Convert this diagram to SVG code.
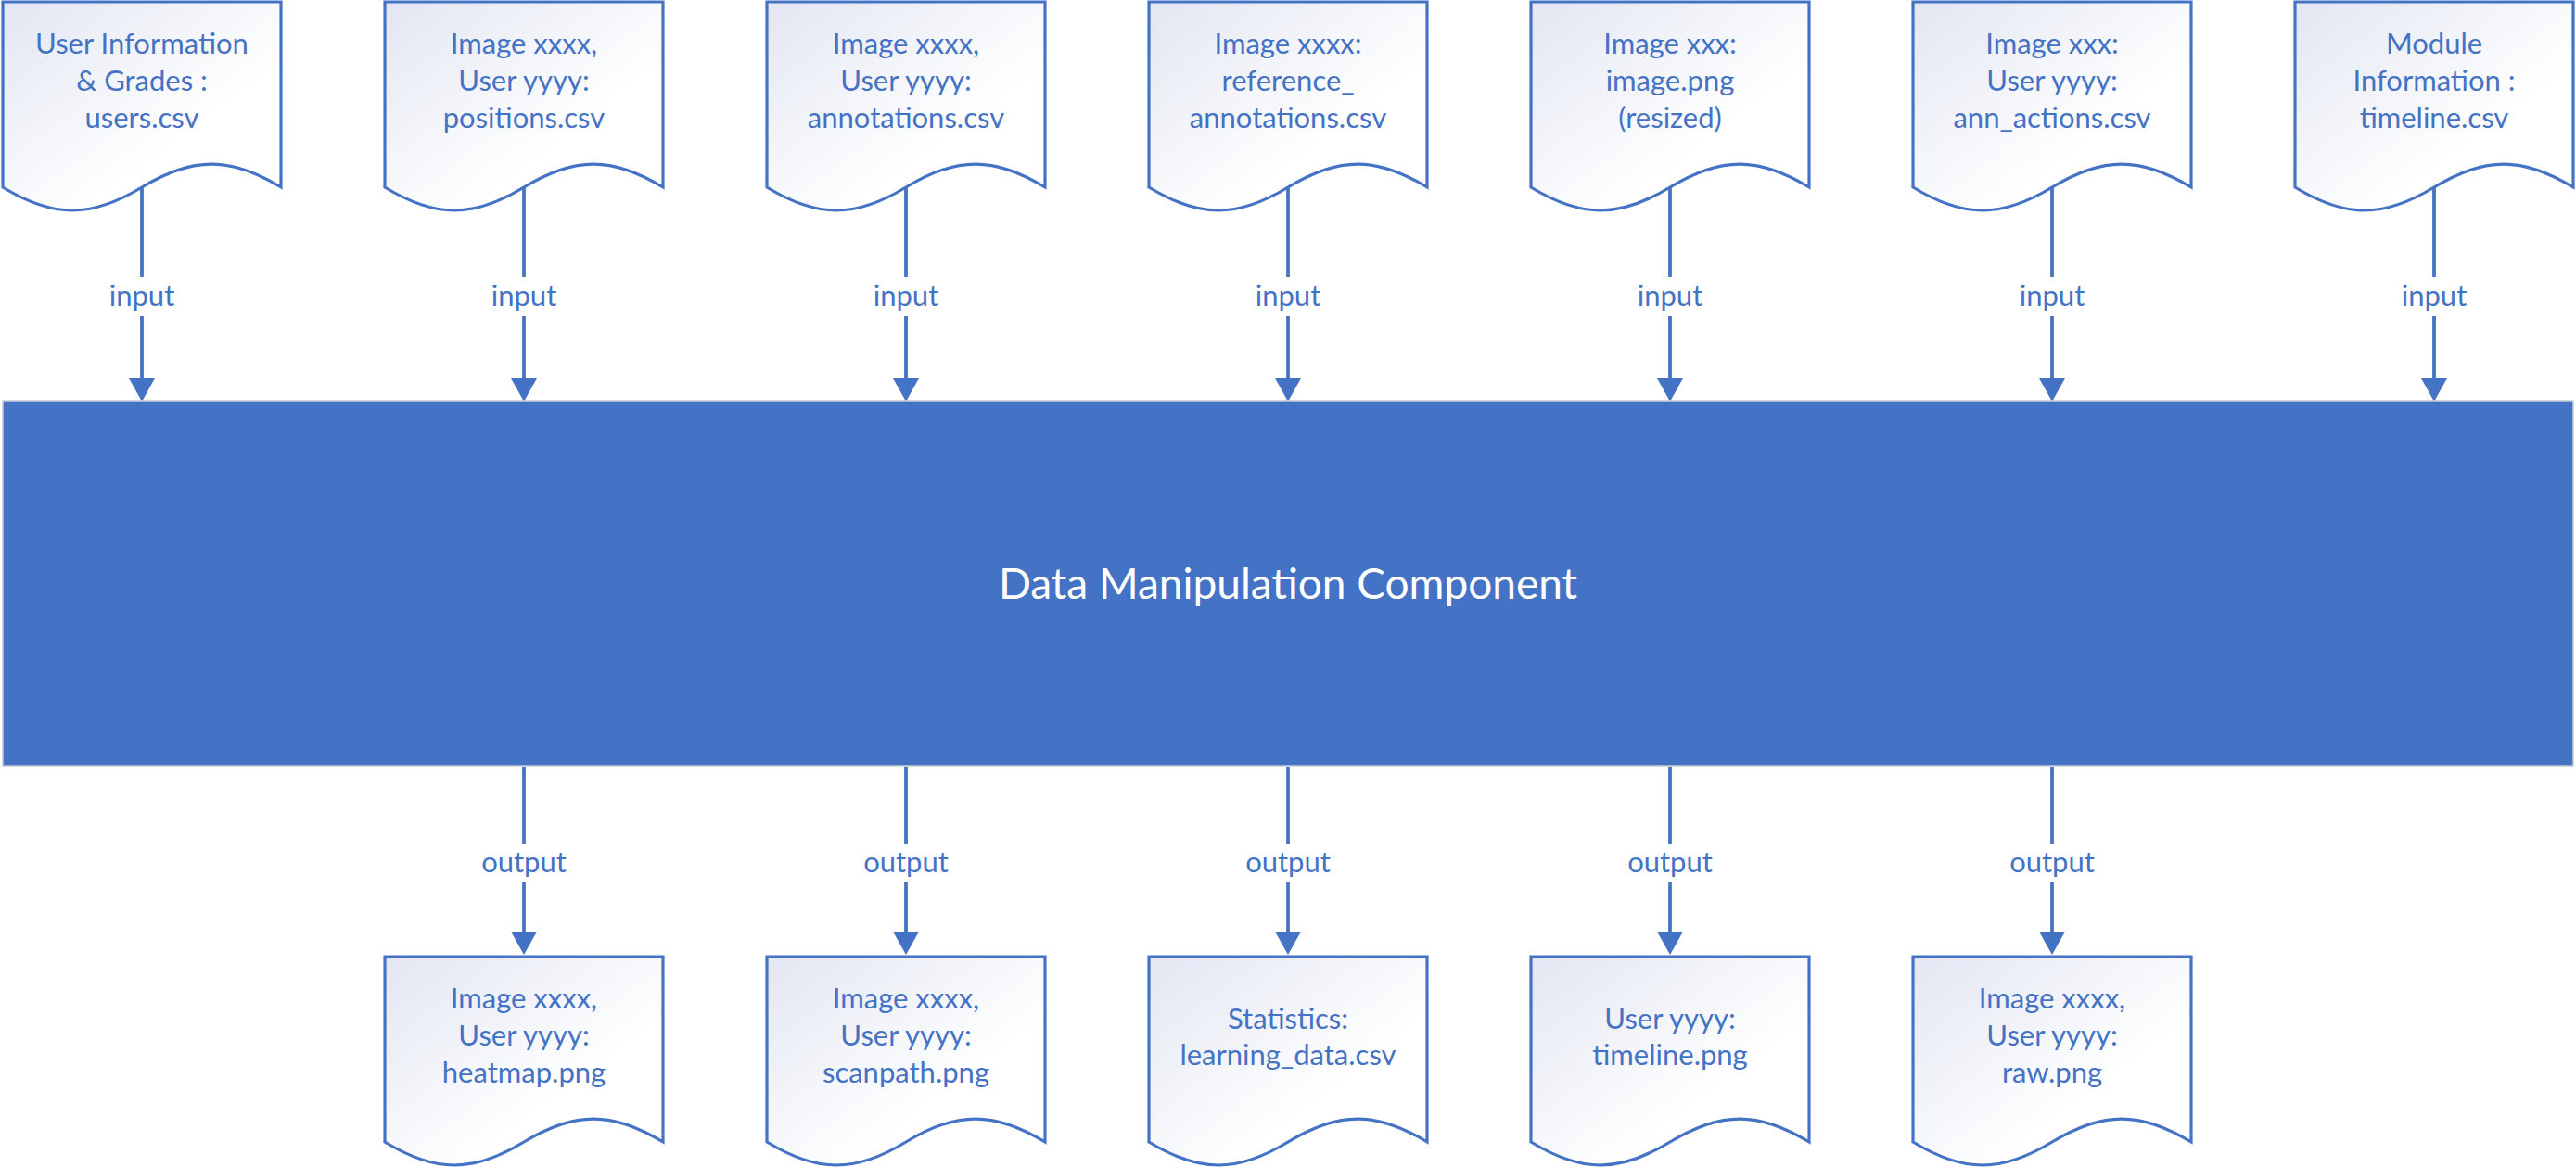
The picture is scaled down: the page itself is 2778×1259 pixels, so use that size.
<svg xmlns="http://www.w3.org/2000/svg" width="2778" height="1259" viewBox="0 0 2778 1259">
<style>
.doc{fill:url(#docfill);stroke:#4472C4;stroke-width:3.2;stroke-linejoin:miter}
.t{font-family:Lato,"Open Sans","Liberation Sans",sans-serif;font-size:31px;fill:#4472C4;text-anchor:middle}
.lbl{font-family:Lato,"Open Sans","Liberation Sans",sans-serif;font-size:31px;fill:#4472C4;text-anchor:middle}
.main{fill:#4472C4;stroke:#c5cbd6;stroke-width:1.5}
.mt{font-family:Lato,"Open Sans","Liberation Sans",sans-serif;font-size:46px;fill:#ffffff;text-anchor:middle}
.c{fill:none;stroke:#4472C4;stroke-width:3.75}
.ca{fill:none;stroke:#4472C4;stroke-width:3.75;marker-end:url(#arr)}
</style>
<defs>
<linearGradient id="docfill" x1="0" y1="0" x2="1" y2="1">
<stop offset="0" stop-color="#e2e6f2"/>
<stop offset="0.65" stop-color="#ffffff"/>
<stop offset="1" stop-color="#ffffff"/>
</linearGradient>
<marker id="arr" markerUnits="userSpaceOnUse" markerWidth="28" markerHeight="28" refX="15" refY="14" orient="auto" viewBox="0 0 25 28">
<path d="M0,0 L25,14 L0,28 Z" fill="#4472C4"/>
</marker>
<path id="docshape" class="doc" d="M0,0 H300 V200 C245.4,166.7 204.6,166.7 150,200 C95.4,233.3 54.6,233.3 0,200 Z"/>
</defs>

<g id="main-component">
<rect class="main" x="3" y="433" width="2772" height="393"/>
<text class="mt" x="1389" y="646">Data Manipulation Component</text>
</g>

<g id="connectors">
<g id="in1"><path class="c" d="M153,202 V299"/><path class="ca" d="M153,341 V423"/><text class="lbl" x="153" y="330">input</text></g>
<g id="in2"><path class="c" d="M565,202 V299"/><path class="ca" d="M565,341 V423"/><text class="lbl" x="565" y="330">input</text></g>
<g id="in3"><path class="c" d="M977,202 V299"/><path class="ca" d="M977,341 V423"/><text class="lbl" x="977" y="330">input</text></g>
<g id="in4"><path class="c" d="M1389,202 V299"/><path class="ca" d="M1389,341 V423"/><text class="lbl" x="1389" y="330">input</text></g>
<g id="in5"><path class="c" d="M1801,202 V299"/><path class="ca" d="M1801,341 V423"/><text class="lbl" x="1801" y="330">input</text></g>
<g id="in6"><path class="c" d="M2213,202 V299"/><path class="ca" d="M2213,341 V423"/><text class="lbl" x="2213" y="330">input</text></g>
<g id="in7"><path class="c" d="M2625,202 V299"/><path class="ca" d="M2625,341 V423"/><text class="lbl" x="2625" y="330">input</text></g>
<g id="out1"><path class="c" d="M565,827 V911"/><path class="ca" d="M565,952 V1020"/><text class="lbl" x="565" y="941">output</text></g>
<g id="out2"><path class="c" d="M977,827 V911"/><path class="ca" d="M977,952 V1020"/><text class="lbl" x="977" y="941">output</text></g>
<g id="out3"><path class="c" d="M1389,827 V911"/><path class="ca" d="M1389,952 V1020"/><text class="lbl" x="1389" y="941">output</text></g>
<g id="out4"><path class="c" d="M1801,827 V911"/><path class="ca" d="M1801,952 V1020"/><text class="lbl" x="1801" y="941">output</text></g>
<g id="out5"><path class="c" d="M2213,827 V911"/><path class="ca" d="M2213,952 V1020"/><text class="lbl" x="2213" y="941">output</text></g>
</g>

<g id="doc-users">
<use href="#docshape" x="3" y="2"/>
<text class="t" x="153" y="58">User Information</text>
<text class="t" x="153" y="98">&amp; Grades :</text>
<text class="t" x="153" y="138">users.csv</text>
</g>
<g id="doc-positions">
<use href="#docshape" x="415" y="2"/>
<text class="t" x="565" y="58">Image xxxx,</text>
<text class="t" x="565" y="98">User yyyy:</text>
<text class="t" x="565" y="138">positions.csv</text>
</g>
<g id="doc-annotations">
<use href="#docshape" x="827" y="2"/>
<text class="t" x="977" y="58">Image xxxx,</text>
<text class="t" x="977" y="98">User yyyy:</text>
<text class="t" x="977" y="138">annotations.csv</text>
</g>
<g id="doc-reference">
<use href="#docshape" x="1239" y="2"/>
<text class="t" x="1389" y="58">Image xxxx:</text>
<text class="t" x="1389" y="98">reference_</text>
<text class="t" x="1389" y="138">annotations.csv</text>
</g>
<g id="doc-image">
<use href="#docshape" x="1651" y="2"/>
<text class="t" x="1801" y="58">Image xxx:</text>
<text class="t" x="1801" y="98">image.png</text>
<text class="t" x="1801" y="138">(resized)</text>
</g>
<g id="doc-ann-actions">
<use href="#docshape" x="2063" y="2"/>
<text class="t" x="2213" y="58">Image xxx:</text>
<text class="t" x="2213" y="98">User yyyy:</text>
<text class="t" x="2213" y="138">ann_actions.csv</text>
</g>
<g id="doc-timeline-csv">
<use href="#docshape" x="2475" y="2"/>
<text class="t" x="2625" y="58">Module</text>
<text class="t" x="2625" y="98">Information :</text>
<text class="t" x="2625" y="138">timeline.csv</text>
</g>

<g id="doc-heatmap">
<use href="#docshape" x="415" y="1032"/>
<text class="t" x="565" y="1088">Image xxxx,</text>
<text class="t" x="565" y="1128">User yyyy:</text>
<text class="t" x="565" y="1168">heatmap.png</text>
</g>
<g id="doc-scanpath">
<use href="#docshape" x="827" y="1032"/>
<text class="t" x="977" y="1088">Image xxxx,</text>
<text class="t" x="977" y="1128">User yyyy:</text>
<text class="t" x="977" y="1168">scanpath.png</text>
</g>
<g id="doc-statistics">
<use href="#docshape" x="1239" y="1032"/>
<text class="t" x="1389" y="1110">Statistics:</text>
<text class="t" x="1389" y="1149">learning_data.csv</text>
</g>
<g id="doc-timeline-png">
<use href="#docshape" x="1651" y="1032"/>
<text class="t" x="1801" y="1110">User yyyy:</text>
<text class="t" x="1801" y="1149">timeline.png</text>
</g>
<g id="doc-raw">
<use href="#docshape" x="2063" y="1032"/>
<text class="t" x="2213" y="1088">Image xxxx,</text>
<text class="t" x="2213" y="1128">User yyyy:</text>
<text class="t" x="2213" y="1168">raw.png</text>
</g>
</svg>
